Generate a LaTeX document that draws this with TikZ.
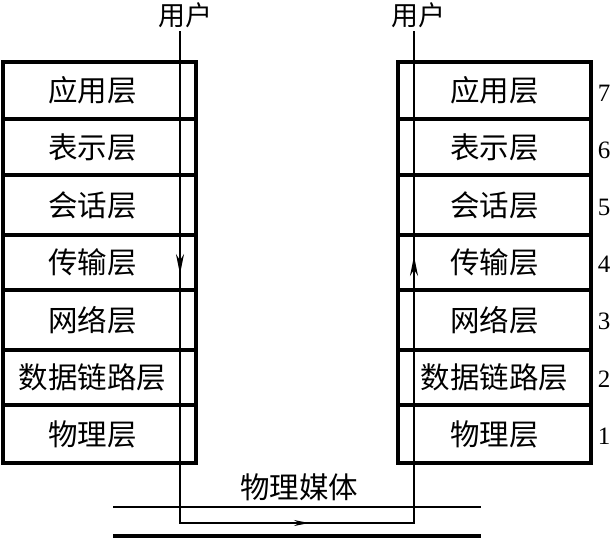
\documentclass[tikz,border=0pt]{standalone}
\usepackage{fontspec}
\setmainfont{Liberation Serif}
\newfontfamily\cjk{Noto Sans CJK SC}
\usetikzlibrary{arrows.meta}
\begin{document}
\begin{tikzpicture}[x=1pt,y=-1pt,
  layer/.style={draw, line width=3.5pt, minimum width=193pt, inner sep=0pt,
    font=\cjk\fontsize{29.5}{29.5}\selectfont},
  leftlayer/.style={layer, execute at end node={\hspace*{14pt}}},
  numlab/.style={font=\fontsize{25}{25}\selectfont, inner sep=0pt},
  userlab/.style={font=\cjk\fontsize{27}{27}\selectfont, inner sep=0pt},
  mediumlab/.style={font=\cjk\fontsize{29.5}{29.5}\selectfont, inner sep=0pt},
  flow/.style={line width=1.4pt},
  tip/.style={-{Stealth[length=20pt,width=8pt]}, line width=1.4pt}
]
\useasboundingbox (0,0) rectangle (612,539);
% left stack
\node[leftlayer, minimum height=57pt] (L7) at (99.5,90.5) {应用层};
\node[leftlayer, minimum height=56pt] (L6) at (99.5,147) {表示层};
\node[leftlayer, minimum height=60pt] (L5) at (99.5,205) {会话层};
\node[leftlayer, minimum height=55pt] (L4) at (99.5,262.5) {传输层};
\node[leftlayer, minimum height=60pt] (L3) at (99.5,320) {网络层};
\node[leftlayer, minimum height=55pt] (L2) at (99.5,377.5) {数据链路层};
\node[leftlayer, minimum height=58pt] (L1) at (99.5,434) {物理层};
% right stack
\node[layer, minimum height=57pt] (R7) at (494.5,90.5) {应用层};
\node[layer, minimum height=56pt] (R6) at (494.5,147) {表示层};
\node[layer, minimum height=60pt] (R5) at (494.5,205) {会话层};
\node[layer, minimum height=55pt] (R4) at (494.5,262.5) {传输层};
\node[layer, minimum height=60pt] (R3) at (494.5,320) {网络层};
\node[layer, minimum height=55pt] (R2) at (494.5,377.5) {数据链路层};
\node[layer, minimum height=58pt] (R1) at (494.5,434) {物理层};
% numbers
\node[numlab] (n7) at (604,93) {7};
\node[numlab] (n6) at (604,150) {6};
\node[numlab] (n5) at (604,207) {5};
\node[numlab] (n4) at (604,264) {4};
\node[numlab] (n3) at (604,321) {3};
\node[numlab] (n2) at (604,379) {2};
\node[numlab] (n1) at (604,436) {1};
% users
\node[userlab] (uLt) at (185,15) {用户};
\node[userlab] (uRt) at (418,15) {用户};
% path
\coordinate (uL) at (180,31);
\coordinate (bL) at (180,523);
\coordinate (bR) at (414,523);
\coordinate (uR) at (414,31);
\draw[flow] (uL) -- (bL) -- (bR) -- (uR);
\coordinate (aL1) at (180,250);
\coordinate (aL2) at (180,274);
\draw[tip] (aL1) -- (aL2);
\coordinate (aR1) at (414,278);
\coordinate (aR2) at (414,256);
\draw[tip] (aR1) -- (aR2);
\coordinate (aB1) at (290,523);
\coordinate (aB2) at (309,523);
\draw[-{Stealth[length=15pt,width=6pt]}, line width=1.4pt] (aB1) -- (aB2);
% medium
\node[mediumlab] (med) at (299,487) {物理媒体};
\coordinate (m1a) at (113,507);
\coordinate (m1b) at (481,507);
\coordinate (m2a) at (113,536);
\coordinate (m2b) at (481,536);
\draw[line width=2.5pt] (m1a) -- (m1b);
\draw[line width=4pt] (m2a) -- (m2b);
\end{tikzpicture}
\end{document}
